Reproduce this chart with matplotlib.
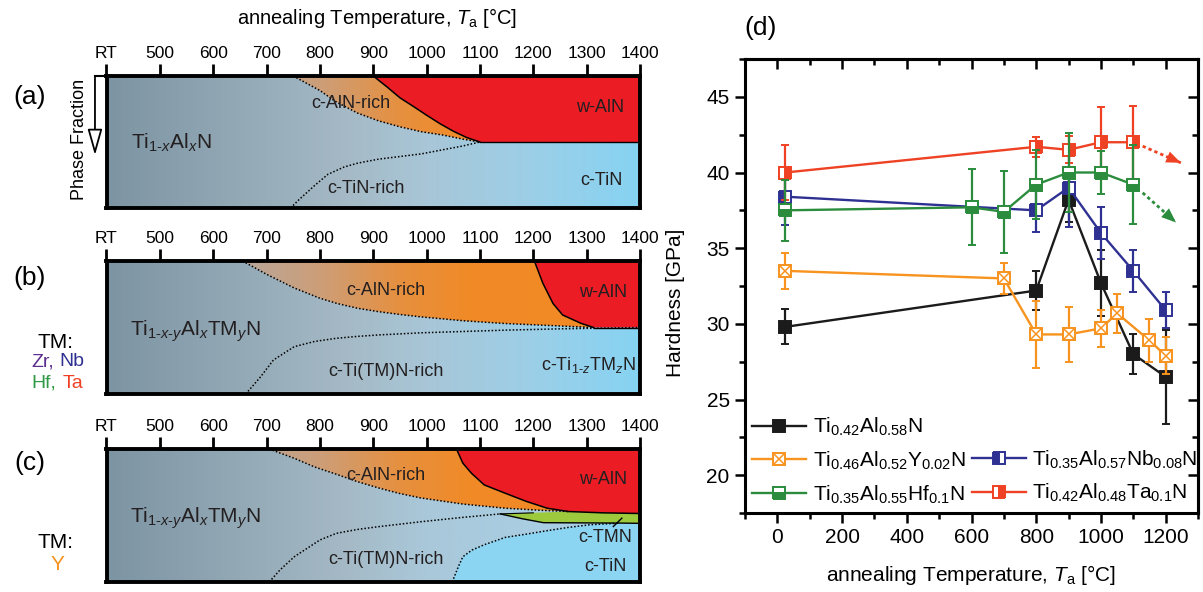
import numpy as np
import matplotlib
matplotlib.use("Agg")
import matplotlib.pyplot as plt
from matplotlib.colors import LinearSegmentedColormap
from matplotlib.lines import Line2D
from matplotlib.patches import Polygon
from matplotlib.ticker import MultipleLocator

plt.rcParams["font.family"] = ["Liberation Sans", "DejaVu Sans"]
plt.rcParams["mathtext.fontset"] = "custom"
plt.rcParams["mathtext.rm"] = "Liberation Sans"
plt.rcParams["mathtext.it"] = "Liberation Sans:italic"
plt.rcParams["mathtext.default"] = "regular"

W, H = 1203, 592

# ── (d) hardness vs annealing temperature ──
T_TIALN = [25, 800, 900, 1000, 1100, 1200]
H_TIALN = [29.8, 32.2, 38.2, 32.7, 28.0, 26.5]
E_TIALN = [1.15, 1.3, 1.5, 2.2, 1.3, 3.1]

T_Y = [25, 700, 800, 900, 1000, 1050, 1150, 1200]
H_Y = [33.5, 33.0, 29.3, 29.3, 29.7, 30.7, 28.9, 27.9]
E_Y = [1.2, 1.0, 2.2, 1.8, 1.2, 1.3, 1.4, 1.2]

T_NB = [25, 800, 900, 1000, 1100, 1200]
H_NB = [38.4, 37.5, 39.0, 36.0, 33.5, 30.9]
E_NB = [1.85, 1.4, 2.6, 1.7, 1.4, 1.2]

T_HF = [25, 600, 700, 800, 900, 1000, 1100]
H_HF = [37.5, 37.7, 37.4, 39.2, 40.0, 40.0, 39.2]
E_HF = [2.0, 2.5, 2.7, 2.3, 2.6, 1.4, 2.6]

T_TA = [25, 800, 900, 1000, 1100]
H_TA = [40.0, 41.7, 41.5, 42.0, 42.0]
E_TA = [1.8, 0.65, 0.9, 2.3, 2.4]

# expected trend beyond the last measured point
TA_TREND_T = [1129, 1247]
TA_TREND_H = [41.74, 40.64]
HF_TREND_T = [1129, 1232]
HF_TREND_H = [38.66, 36.7]

LBL_TIALN = r"Ti$_{0.42}$Al$_{0.58}$N"
LBL_Y = r"Ti$_{0.46}$Al$_{0.52}$Y$_{0.02}$N"
LBL_NB = r"Ti$_{0.35}$Al$_{0.57}$Nb$_{0.08}$N"
LBL_HF = r"Ti$_{0.35}$Al$_{0.55}$Hf$_{0.1}$N"
LBL_TA = r"Ti$_{0.42}$Al$_{0.48}$Ta$_{0.1}$N"

BLACK, ORANGE, BLUE, GREEN, RED = "#1b1b1b", "#f7931e", "#2e3192", "#2a8c3c", "#ef4123"

# ── (a)-(c) phase evolution schematics (x: temperature, y: phase fraction) ──
TICK_T = [400, 500, 600, 700, 800, 900, 1000, 1100, 1200, 1300, 1400]
TICK_LABELS = ["RT", "500", "600", "700", "800", "900", "1000", "1100", "1200", "1300", "1400"]

# (a) Ti1-xAlxN
A_ALN_T = [750, 800, 830, 870, 910, 950, 990, 1030, 1070, 1100]
A_ALN_F = [1.0, 0.89, 0.805, 0.72, 0.66, 0.615, 0.578, 0.553, 0.52, 0.50]
A_WALN_T = [900, 925, 950, 975, 1000, 1025, 1050, 1075, 1100]
A_WALN_F = [1.0, 0.92, 0.835, 0.77, 0.703, 0.639, 0.582, 0.534, 0.50]
A_TIN_T = [745, 760, 790, 815, 845, 871, 910, 950, 990, 1029, 1068, 1100]
A_TIN_F = [0.0, 0.06, 0.17, 0.255, 0.31, 0.34, 0.37, 0.39, 0.41, 0.44, 0.47, 0.50]

# (b) TM = Zr, Nb, Hf, Ta
B_ALN_T = [655, 700, 752, 800, 831, 870, 910, 950, 989, 1068, 1147, 1230, 1313]
B_ALN_F = [1.0, 0.90, 0.797, 0.72, 0.682, 0.645, 0.619, 0.598, 0.58, 0.551, 0.53, 0.515, 0.50]
B_WALN_T = [1202, 1218, 1237, 1255, 1289, 1313]
B_WALN_F = [1.0, 0.832, 0.68, 0.594, 0.532, 0.50]
B_TIN_T = [661, 689, 713, 752, 790, 831, 870, 910, 989, 1068, 1147, 1250, 1400]
B_TIN_F = [0.0, 0.13, 0.256, 0.356, 0.395, 0.419, 0.433, 0.444, 0.46, 0.47, 0.48, 0.49, 0.50]

# (c) TM = Y
C_ALN_T = [705, 752, 790, 831, 870, 910, 950, 989, 1068, 1147, 1210, 1265]
C_ALN_F = [1.0, 0.93, 0.865, 0.81, 0.755, 0.707, 0.665, 0.632, 0.586, 0.555, 0.54, 0.53]
C_WALN_T = [1056, 1068, 1084, 1108, 1147, 1187, 1226, 1265, 1330, 1400]
C_WALN_F = [1.0, 0.893, 0.818, 0.73, 0.668, 0.606, 0.555, 0.53, 0.52, 0.515]
C_TIN_T = [705, 725, 752, 800, 831, 870, 910, 989, 1068, 1138]
C_TIN_F = [0.0, 0.09, 0.19, 0.316, 0.366, 0.395, 0.416, 0.453, 0.486, 0.512]
C_TMN_TOP_T = [1138, 1200, 1265, 1330, 1400]
C_TMN_TOP_F = [0.512, 0.52, 0.53, 0.52, 0.515]
C_TMN_BOT_T = [1400, 1362, 1219, 1180, 1138]
C_TMN_BOT_F = [0.441, 0.443, 0.446, 0.475, 0.512]
C_CUB_T = [1048, 1060, 1068, 1085, 1108, 1147, 1187, 1226, 1265, 1305, 1362]
C_CUB_F = [0.0, 0.12, 0.19, 0.24, 0.28, 0.335, 0.36, 0.386, 0.41, 0.43, 0.443]

BG_AB = [(400, "#7d94a3"), (650, "#93a9b6"), (850, "#a5bac6"), (1000, "#a8c6d7"),
         (1200, "#9ccfe8"), (1400, "#86d3f2")]
BG_C = [(400, "#7d94a3"), (650, "#93a9b6"), (850, "#a5bac6"), (1000, "#a9c8da"),
        (1400, "#a9d3ea")]
ORANGE_RAMP = [(400, "#b3a9a3"), (650, "#b8a79b"), (800, "#cd9e78"), (950, "#e6903f"),
               (1080, "#f18a27"), (1400, "#f28a24")]
W_ALN_RED = "#ec1c24"
TMN_GREEN = "#9cca3c"
TIN_CYAN = "#8bd4f2"

DOTTED = (0, (1.0, 1.3))


def ramp_cmap(stops):
    return LinearSegmentedColormap.from_list(
        "ramp", [((t - 400) / 1000, c) for t, c in stops])


def ramp_image(ax, stops, z, clip=None):
    ramp = np.linspace(400, 1400, 600)[None, :]
    im = ax.imshow(ramp, cmap=ramp_cmap(stops), vmin=400, vmax=1400,
                   extent=[400, 1400, 0, 1], aspect="auto", origin="lower",
                   interpolation="bilinear", zorder=z)
    if clip is not None:
        im.set_clip_path(Polygon(clip, closed=True, transform=ax.transData))
    return im


def pts(t, f):
    return np.column_stack([t, f])


fig = plt.figure(figsize=(W / 100, H / 100), dpi=100)


def px_axes(left, top, right, bottom):
    return fig.add_axes([left / W, 1 - bottom / H, (right - left) / W, (bottom - top) / H])


def schematic(top, bottom, bg):
    ax = px_axes(106.5, top, 640, bottom)
    ramp_image(ax, bg, 0)
    ax.set_xlim(400, 1400)
    ax.set_ylim(0, 1)
    ax.xaxis.tick_top()
    ax.set_xticks(TICK_T)
    ax.set_xticklabels(TICK_LABELS)
    ax.tick_params(axis="x", direction="out", length=8.5, width=2, pad=2.5, labelsize=12.5)
    ax.set_yticks([])
    for s in ax.spines.values():
        s.set_linewidth(2.8)
        s.set_zorder(10)
    return ax


def region_text(ax, t, f, s, size=13, **kw):
    ax.text(t, f, s, fontsize=size, ha="center", va="center", color="#231f20", zorder=8, **kw)


# ---------- (a) ----------
ax_a = schematic(76, 208, BG_AB)
a_aln, a_waln = pts(A_ALN_T, A_ALN_F), pts(A_WALN_T, A_WALN_F)
ramp_image(ax_a, ORANGE_RAMP, 1, clip=np.vstack([a_aln, a_waln[::-1]]))
ax_a.add_patch(Polygon(np.vstack([a_waln, [[1400, 0.5], [1400, 1.0]]]), closed=True,
                       fc=W_ALN_RED, ec="none", zorder=2))
ax_a.plot(A_ALN_T, A_ALN_F, color="k", ls=DOTTED, lw=1.1, zorder=4)
ax_a.plot(A_TIN_T, A_TIN_F, color="k", ls=DOTTED, lw=1.1, zorder=4)
ax_a.plot(A_WALN_T, A_WALN_F, color="k", lw=1.1, zorder=4)
ax_a.plot([1100, 1400], [0.5, 0.5], color="k", lw=1.0, zorder=4)
region_text(ax_a, 521, 0.49, r"Ti$_{1\text{-}\mathit{x}}$Al$_{\mathit{x}}$N", size=15)
region_text(ax_a, 858, 0.795, "c-AlN-rich")
region_text(ax_a, 1325, 0.76, "w-AlN")
region_text(ax_a, 1328, 0.21, "c-TiN")
region_text(ax_a, 887, 0.15, "c-TiN-rich")

# phase-fraction axis arrow
ax_a.plot([-0.0216, 0], [1, 1], transform=ax_a.transAxes, clip_on=False, color="k", lw=1.5)
ax_a.annotate("", xy=(-0.0216, 0.40), xytext=(-0.0216, 1.0), xycoords="axes fraction",
              arrowprops=dict(arrowstyle="-|>,head_length=1.6,head_width=0.45",
                              fc="white", ec="k", lw=1.3, mutation_scale=10,
                              shrinkA=0, shrinkB=0))
ax_a.text(-0.05, 0.52, "Phase Fraction", transform=ax_a.transAxes, rotation=90,
          fontsize=13, ha="center", va="center")

# ---------- (b) ----------
ax_b = schematic(261, 394, BG_AB)
b_aln, b_waln = pts(B_ALN_T, B_ALN_F), pts(B_WALN_T, B_WALN_F)
ramp_image(ax_b, ORANGE_RAMP, 1, clip=np.vstack([b_aln, b_waln[::-1]]))
ax_b.add_patch(Polygon(np.vstack([b_waln, [[1400, 0.5], [1400, 1.0]]]), closed=True,
                       fc=W_ALN_RED, ec="none", zorder=2))
ax_b.plot(B_ALN_T, B_ALN_F, color="k", ls=DOTTED, lw=1.1, zorder=4)
ax_b.plot(B_TIN_T, B_TIN_F, color="k", ls=DOTTED, lw=1.1, zorder=4)
ax_b.plot(B_WALN_T, B_WALN_F, color="k", lw=1.1, zorder=4)
ax_b.plot([1313, 1400], [0.5, 0.5], color="k", lw=1.0, zorder=4)
region_text(ax_b, 566, 0.47,
            r"Ti$_{1\text{-}\mathit{x}\text{-}\mathit{y}}$Al$_{\mathit{x}}$TM$_{\mathit{y}}$N", size=15)
region_text(ax_b, 924, 0.78, "c-AlN-rich")
region_text(ax_b, 1331, 0.76, "w-AlN")
region_text(ax_b, 924, 0.17, "c-Ti(TM)N-rich")
region_text(ax_b, 1304, 0.22, r"c-Ti$_{1\text{-}\mathit{z}}$TM$_{\mathit{z}}$N")

# ---------- (c) ----------
ax_c = schematic(449, 582, BG_C)
c_aln, c_waln = pts(C_ALN_T, C_ALN_F), pts(C_WALN_T, C_WALN_F)
ramp_image(ax_c, ORANGE_RAMP, 1, clip=np.vstack([c_aln, c_waln[:8][::-1]]))
ax_c.add_patch(Polygon(np.vstack([c_waln, [[1400, 1.0]]]), closed=True,
                       fc=W_ALN_RED, ec="none", zorder=2))
ax_c.add_patch(Polygon(np.vstack([pts(C_TMN_TOP_T, C_TMN_TOP_F), pts(C_TMN_BOT_T, C_TMN_BOT_F)]),
                       closed=True, fc=TMN_GREEN, ec="none", zorder=2))
ax_c.add_patch(Polygon(np.vstack([pts(C_CUB_T, C_CUB_F), [[1400, 0.441], [1400, 0.0]]]),
                       closed=True, fc=TIN_CYAN, ec="none", zorder=2))
ax_c.plot(C_ALN_T, C_ALN_F, color="k", ls=DOTTED, lw=1.1, zorder=4)
ax_c.plot(C_TIN_T, C_TIN_F, color="k", ls=DOTTED, lw=1.1, zorder=4)
ax_c.plot(C_CUB_T, C_CUB_F, color="k", ls=DOTTED, lw=1.1, zorder=4)
ax_c.plot(C_WALN_T, C_WALN_F, color="k", lw=1.1, zorder=4)
ax_c.plot(C_TMN_BOT_T, C_TMN_BOT_F, color="k", lw=1.0, zorder=4)
ax_c.plot(C_TMN_TOP_T[:2], C_TMN_TOP_F[:2], color="k", lw=0.8, zorder=4)
ax_c.plot([1366, 1350], [0.48, 0.417], color="k", lw=1.0, zorder=5)
region_text(ax_c, 566, 0.48,
            r"Ti$_{1\text{-}\mathit{x}\text{-}\mathit{y}}$Al$_{\mathit{x}}$TM$_{\mathit{y}}$N", size=15)
region_text(ax_c, 924, 0.80, "c-AlN-rich")
region_text(ax_c, 1331, 0.767, "w-AlN")
region_text(ax_c, 924, 0.17, "c-Ti(TM)N-rich")
region_text(ax_c, 1334, 0.336, "c-TMN")
region_text(ax_c, 1336, 0.12, "c-TiN")

# panel letters and TM legends
fig.text(377 / W, 1 - 18 / H, r"annealing Temperature, $\mathit{T}_{\mathrm{a}}$ [°C]",
         fontsize=14.5, ha="center", va="center")
for lab, y in [("(a)", 97), ("(b)", 278), ("(c)", 463)]:
    fig.text(30 / W, 1 - y / H, lab, fontsize=19, ha="center", va="center")
fig.text(55 / W, 1 - 343 / H, "TM:", fontsize=15, ha="center", va="center")
fig.text(31 / W, 1 - 362 / H, "Zr,", fontsize=14, ha="left", va="center", color="#5b2d8e")
fig.text(84 / W, 1 - 362 / H, "Nb", fontsize=14, ha="right", va="center", color="#2e3192")
fig.text(31 / W, 1 - 383 / H, "Hf,", fontsize=14, ha="left", va="center", color="#2f9a46")
fig.text(83 / W, 1 - 383 / H, "Ta", fontsize=14, ha="right", va="center", color=RED)
fig.text(55 / W, 1 - 543 / H, "TM:", fontsize=15, ha="center", va="center")
fig.text(57 / W, 1 - 565 / H, "Y", fontsize=15, ha="center", va="center", color=ORANGE)
fig.text(761 / W, 1 - 28 / H, "(d)", fontsize=19, ha="center", va="center")

# ---------- (d) ----------
axd = px_axes(745, 59, 1198, 513)
MS, MEW, LW = 8, 1.4, 1.7
err_kw = dict(capsize=3.2, capthick=1.6, elinewidth=1.6, lw=LW, ms=MS, mew=MEW, marker="s")

axd.errorbar(T_TIALN, H_TIALN, yerr=E_TIALN, color=BLACK, mfc=BLACK, zorder=3, **err_kw)
axd.errorbar(T_Y, H_Y, yerr=E_Y, color=ORANGE, mfc="white", zorder=4, **err_kw)
axd.plot(T_Y, H_Y, ls="none", marker="x", ms=MS, mew=1.1, color=ORANGE, zorder=4.5)
axd.errorbar(T_NB, H_NB, yerr=E_NB, color=BLUE, fillstyle="left", mfc=BLUE,
             markerfacecoloralt="white", zorder=5, **err_kw)
axd.errorbar(T_TA, H_TA, yerr=E_TA, color=RED, fillstyle="right", mfc=RED,
             markerfacecoloralt="white", zorder=6, **err_kw)
axd.errorbar(T_HF, H_HF, yerr=E_HF, color=GREEN, fillstyle="bottom", mfc=GREEN,
             markerfacecoloralt="white", zorder=7, **err_kw)

for tt, hh, c in [(TA_TREND_T, TA_TREND_H, RED), (HF_TREND_T, HF_TREND_H, GREEN)]:
    axd.plot(tt, hh, color=c, lw=2.0, ls=(0, (1.2, 1.1)), zorder=6)
    axd.annotate("", xy=(tt[1], hh[1]),
                 xytext=(tt[1] - 0.2 * (tt[1] - tt[0]), hh[1] - 0.2 * (hh[1] - hh[0])),
                 arrowprops=dict(arrowstyle="-|>,head_length=0.75,head_width=0.3",
                                 color=c, lw=0, mutation_scale=14, shrinkA=0, shrinkB=0),
                 zorder=6)

axd.set_xlim(-100, 1300)
axd.set_ylim(17.5, 47.5)
axd.set_xticks(np.arange(0, 1201, 200))
axd.xaxis.set_minor_locator(MultipleLocator(100))
axd.set_yticks(np.arange(20, 46, 5))
axd.yaxis.set_minor_locator(MultipleLocator(2.5))
axd.tick_params(which="both", direction="out", width=1.8, labelsize=15, pad=4)
axd.tick_params(which="major", length=7)
axd.tick_params(which="minor", length=4)
for s in axd.spines.values():
    s.set_linewidth(2.2)

top = axd.secondary_xaxis("top")
top.set_xticks(np.arange(0, 1201, 200))
top.xaxis.set_minor_locator(MultipleLocator(100))
top.tick_params(which="both", direction="in", labeltop=False, width=1.8)
top.tick_params(which="major", length=7)
top.tick_params(which="minor", length=4)
top.spines["top"].set_linewidth(2.2)
right = axd.secondary_yaxis("right")
right.set_yticks(np.arange(20, 46, 5))
right.yaxis.set_minor_locator(MultipleLocator(2.5))
right.tick_params(which="both", direction="in", labelright=False, width=1.8)
right.tick_params(which="major", length=7)
right.tick_params(which="minor", length=4)
right.spines["right"].set_linewidth(2.2)

axd.set_xlabel(r"annealing Temperature, $\mathit{T}_{\mathrm{a}}$ [°C]", fontsize=15, labelpad=11)
axd.set_ylabel("Hardness [GPa]", fontsize=15)
axd.yaxis.set_label_coords(-0.132, 0.4626)

handles = [
    Line2D([], [], color=BLACK, marker="s", ms=MS, mew=MEW, lw=LW),
    (Line2D([], [], color=ORANGE, marker="s", ms=MS, mew=MEW, lw=LW, mfc="white"),
     Line2D([], [], color=ORANGE, marker="x", ms=MS, mew=1.1, ls="none")),
    Line2D([], [], color=GREEN, marker="s", ms=MS, mew=MEW, lw=LW, fillstyle="bottom",
           markerfacecoloralt="white"),
    Line2D([], [], color="none"),
    Line2D([], [], color=BLUE, marker="s", ms=MS, mew=MEW, lw=LW, fillstyle="left",
           markerfacecoloralt="white"),
    Line2D([], [], color=RED, marker="s", ms=MS, mew=MEW, lw=LW, fillstyle="right",
           markerfacecoloralt="white"),
]
labels = [LBL_TIALN, LBL_Y, LBL_HF, "", LBL_NB, LBL_TA]
axd.legend(handles, labels, ncol=2, loc="lower left", bbox_to_anchor=(0.0, 0.0),
           frameon=False, fontsize=15, handlelength=2.6, handletextpad=0.3,
           columnspacing=0.3, labelspacing=0.55, borderaxespad=0.2, borderpad=0.15)

fig.savefig("out.png", dpi=100, facecolor="white")
